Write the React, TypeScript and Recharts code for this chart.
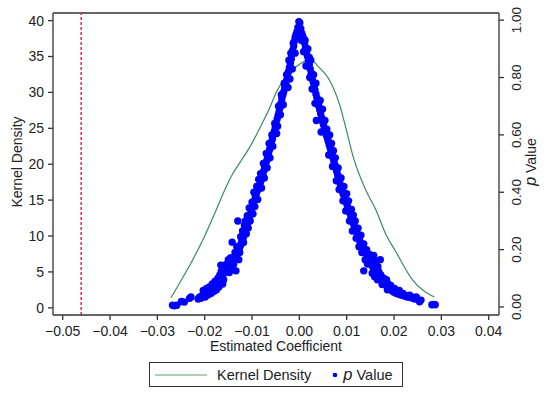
import React from 'react';
import { ComposedChart, Line, Scatter, XAxis, YAxis, ReferenceLine } from 'recharts';

// kernel density of the estimated coefficient
const densityCoef = [-0.0271, -0.025, -0.0226, -0.02, -0.0176, -0.0155, -0.0144, -0.013, -0.012, -0.0102, -0.008, -0.0063, -0.0049, -0.003, -0.0014, 0, 0.0014, 0.0025, 0.004, 0.0063, 0.0085, 0.01, 0.0113, 0.013, 0.0141, 0.0162, 0.0183, 0.0204, 0.0239, 0.0285];
const densityValue = [1.4, 3.8, 6.6, 10.0, 13.6, 16.8, 18.3, 19.8, 20.8, 22.7, 25.5, 27.8, 30.0, 32.0, 33.2, 33.9, 34.4, 34.5, 33.6, 31.8, 28.3, 24.6, 21.2, 18.0, 16.3, 13.6, 10.2, 7.8, 3.9, 1.5];

// p values, [coefficient, p]
const pValueLeft: [number, number][] = [
  [-0.0001, 0.995], [-0.0003, 0.975], [-0.0005, 0.96], [-0.0007, 0.95], [-0.0009, 0.94], [-0.0011, 0.925], [-0.0012, 0.91],
  [-0.0014, 0.895], [-0.0016, 0.88], [-0.0017, 0.865], [-0.0019, 0.85], [-0.0021, 0.835], [-0.0023, 0.82], [-0.0025, 0.805],
  [-0.0027, 0.79], [-0.0029, 0.775], [-0.0031, 0.765], [-0.0033, 0.75], [-0.0035, 0.738], [-0.0037, 0.725], [-0.0039, 0.71],
  [-0.0041, 0.695], [-0.0043, 0.68], [-0.0045, 0.668], [-0.0047, 0.655], [-0.0049, 0.64], [-0.0051, 0.625], [-0.0053, 0.612],
  [-0.0055, 0.6], [-0.0057, 0.585], [-0.0059, 0.572], [-0.0061, 0.56], [-0.0063, 0.548], [-0.0065, 0.537], [-0.0067, 0.525],
  [-0.0069, 0.51], [-0.0071, 0.498], [-0.0073, 0.487], [-0.0075, 0.475], [-0.0077, 0.463], [-0.0079, 0.452], [-0.0081, 0.44],
  [-0.0083, 0.43], [-0.0085, 0.42], [-0.0087, 0.41], [-0.0089, 0.405], [-0.0091, 0.395], [-0.0093, 0.385], [-0.0095, 0.37],
  [-0.0097, 0.36], [-0.0099, 0.35], [-0.0101, 0.34], [-0.0103, 0.325], [-0.0105, 0.315], [-0.0107, 0.305], [-0.0109, 0.295],
  [-0.0111, 0.285], [-0.0113, 0.275], [-0.0115, 0.262], [-0.0117, 0.25], [-0.0119, 0.24], [-0.0121, 0.232], [-0.0123, 0.222],
  [-0.0125, 0.212], [-0.0127, 0.203], [-0.0129, 0.194], [-0.0131, 0.186], [-0.0134, 0.178], [-0.0137, 0.17], [-0.014, 0.163],
  [-0.0143, 0.157], [-0.0146, 0.15], [-0.0149, 0.143], [-0.0152, 0.135], [-0.0155, 0.127], [-0.0158, 0.12], [-0.0161, 0.113],
  [-0.0164, 0.106], [-0.0167, 0.1], [-0.017, 0.094], [-0.0173, 0.088], [-0.0176, 0.082], [-0.0179, 0.076], [-0.0182, 0.071],
  [-0.0185, 0.066], [-0.0188, 0.061], [-0.0191, 0.056], [-0.0194, 0.052], [-0.0197, 0.048], [-0.0201, 0.044], [-0.0206, 0.039],
  [-0.0211, 0.034],
  [-0.0027, 0.81], [-0.0032, 0.78], [-0.0038, 0.74], [-0.0044, 0.7], [-0.004, 0.67], [-0.0046, 0.63], [-0.0052, 0.64],
  [-0.0058, 0.6], [-0.0056, 0.56], [-0.0064, 0.57], [-0.0062, 0.52], [-0.007, 0.535], [-0.0068, 0.485], [-0.0076, 0.5],
  [-0.0074, 0.45], [-0.0082, 0.465], [-0.0086, 0.445], [-0.008, 0.415], [-0.009, 0.42], [-0.0096, 0.4], [-0.0088, 0.375],
  [-0.0094, 0.35], [-0.01, 0.365], [-0.0106, 0.345], [-0.0098, 0.325], [-0.0104, 0.3], [-0.011, 0.318], [-0.0114, 0.3],
  [-0.0108, 0.275], [-0.0116, 0.285], [-0.0112, 0.255], [-0.012, 0.265], [-0.0118, 0.225], [-0.0124, 0.245], [-0.013, 0.3],
  [-0.0126, 0.19], [-0.0132, 0.21], [-0.0142, 0.226], [-0.0128, 0.165], [-0.0136, 0.19], [-0.0134, 0.126], [-0.0139, 0.148],
  [-0.0145, 0.172], [-0.015, 0.165], [-0.0144, 0.135], [-0.0155, 0.148], [-0.0148, 0.12], [-0.0158, 0.135], [-0.016, 0.095],
  [-0.0165, 0.125], [-0.0162, 0.08], [-0.0168, 0.112], [-0.017, 0.07], [-0.0172, 0.1], [-0.0175, 0.06], [-0.0178, 0.09],
  [-0.018, 0.055], [-0.0184, 0.08], [-0.0186, 0.048], [-0.019, 0.07], [-0.0193, 0.042], [-0.0196, 0.065], [-0.0199, 0.035],
  [-0.0203, 0.058], [-0.0208, 0.03], [-0.0214, 0.028], [-0.0229, 0.035], [-0.0232, 0.03], [-0.0243, 0.017], [-0.0249, 0.019],
  [-0.0259, 0.006], [-0.0264, 0.004], [-0.0268, 0.006], [-0.0166, 0.146],
  [-0.0004, 0.94], [-0.0009, 0.885], [-0.0015, 0.83], [-0.002, 0.795], [-0.0024, 0.765], [-0.0013, 0.92],
  [-0.0018, 0.885], [-0.0022, 0.86], [-0.0034, 0.705], [-0.0048, 0.605],
];

const pValueRight: [number, number][] = [
  [0.0001, 0.99], [0.0003, 0.97], [0.0005, 0.955], [0.0007, 0.945], [0.0009, 0.935], [0.0011, 0.92], [0.0013, 0.905],
  [0.0015, 0.89], [0.0017, 0.875], [0.0019, 0.86], [0.0021, 0.845], [0.0023, 0.83], [0.0025, 0.815], [0.0027, 0.8],
  [0.0029, 0.785], [0.0031, 0.77], [0.0033, 0.757], [0.0035, 0.743], [0.0037, 0.73], [0.0039, 0.715], [0.0041, 0.7],
  [0.0043, 0.688], [0.0045, 0.675], [0.0047, 0.66], [0.0049, 0.647], [0.0051, 0.635], [0.0053, 0.622], [0.0055, 0.61],
  [0.0057, 0.6], [0.0059, 0.59], [0.0061, 0.578], [0.0063, 0.566], [0.0065, 0.555], [0.0067, 0.543], [0.0069, 0.53],
  [0.0071, 0.52], [0.0073, 0.508], [0.0075, 0.496], [0.0077, 0.485], [0.0079, 0.472], [0.0081, 0.46], [0.0083, 0.448],
  [0.0085, 0.436], [0.0087, 0.425], [0.0089, 0.413], [0.0091, 0.402], [0.0093, 0.393], [0.0095, 0.385], [0.0097, 0.375],
  [0.0099, 0.366], [0.0101, 0.355], [0.0103, 0.345], [0.0105, 0.335], [0.0107, 0.326], [0.0109, 0.316], [0.0111, 0.306],
  [0.0113, 0.296], [0.0115, 0.287], [0.0117, 0.278], [0.0119, 0.27], [0.0121, 0.262], [0.0123, 0.252], [0.0125, 0.242],
  [0.0127, 0.233], [0.0129, 0.225], [0.0131, 0.217], [0.0134, 0.208], [0.0137, 0.198], [0.014, 0.188], [0.0143, 0.178],
  [0.0146, 0.168], [0.0149, 0.158], [0.0152, 0.148], [0.0155, 0.14], [0.0158, 0.132], [0.0161, 0.124], [0.0164, 0.116],
  [0.0167, 0.109], [0.017, 0.102], [0.0173, 0.096], [0.0176, 0.09], [0.0179, 0.084], [0.0182, 0.078], [0.0185, 0.072],
  [0.0188, 0.067], [0.0191, 0.062], [0.0195, 0.057], [0.0199, 0.052], [0.0204, 0.048], [0.021, 0.044], [0.0216, 0.041],
  [0.0222, 0.038], [0.0228, 0.035], [0.0234, 0.033], [0.024, 0.03],
  [0.0018, 0.9], [0.0024, 0.86], [0.003, 0.81], [0.0035, 0.78], [0.0036, 0.65], [0.0044, 0.72], [0.0049, 0.69],
  [0.0054, 0.65], [0.0058, 0.62], [0.0064, 0.6], [0.0062, 0.53], [0.0068, 0.57], [0.0072, 0.545], [0.007, 0.49],
  [0.0076, 0.52], [0.0078, 0.44], [0.0082, 0.485], [0.0084, 0.41], [0.0088, 0.45], [0.0092, 0.37], [0.0094, 0.42],
  [0.01, 0.395], [0.0098, 0.335], [0.0104, 0.37], [0.0106, 0.3], [0.011, 0.34], [0.0114, 0.32], [0.0112, 0.265],
  [0.0118, 0.3], [0.012, 0.24], [0.0124, 0.275], [0.0126, 0.21], [0.013, 0.25], [0.0132, 0.19], [0.0136, 0.22],
  [0.0139, 0.165], [0.0142, 0.2], [0.0144, 0.15], [0.0147, 0.185], [0.015, 0.17], [0.0153, 0.165], [0.0157, 0.18],
  [0.016, 0.155], [0.0163, 0.16], [0.0166, 0.14], [0.0156, 0.145], [0.0171, 0.165], [0.0154, 0.118], [0.0159, 0.105],
  [0.0165, 0.095], [0.0168, 0.122], [0.0172, 0.112], [0.0175, 0.078], [0.0178, 0.1], [0.0181, 0.09], [0.0184, 0.095],
  [0.0187, 0.082], [0.019, 0.07], [0.0186, 0.06], [0.0193, 0.075], [0.0197, 0.06], [0.0201, 0.065], [0.0205, 0.055],
  [0.0211, 0.058], [0.0215, 0.047], [0.0219, 0.047], [0.0226, 0.038], [0.0233, 0.041], [0.0238, 0.035], [0.0244, 0.028],
  [0.0247, 0.035], [0.0254, 0.018], [0.0257, 0.024], [0.028, 0.008], [0.0284, 0.009], [0.0287, 0.008], [0.0136, 0.126],
  [0.0004, 0.93], [0.0009, 0.89], [0.0014, 0.84], [0.0022, 0.8], [0.0027, 0.76], [0.0012, 0.93],
  [0.0016, 0.9], [0.0021, 0.87], [0.0033, 0.71], [0.0046, 0.61],
];

const xTicks = [-0.05, -0.04, -0.03, -0.02, -0.01, 0, 0.01, 0.02, 0.03, 0.04];
const densityTicks = [0, 5, 10, 15, 20, 25, 30, 35, 40];
const pTicks = [0, 0.2, 0.4, 0.6, 0.8, 1];
const benchmarkCoef = -0.0461;

const X_DOMAIN = [-0.05205, 0.04218];
const L_DOMAIN = [-1.0, 41.06];
const R_DOMAIN = [-0.028, 1.025];

const FONT = 'Arial, "Liberation Sans", Helvetica, sans-serif';
const AXIS = '#333333';
const TEXT = '#222222';

const densityData = densityCoef.map((x, i) => ({ x, density: densityValue[i] }));
const pData = [...pValueLeft, ...pValueRight].map(([x, p]) => ({ x, p }));

const fmtCoef = (v: number) => (v < 0 ? '\u2212' : '') + Math.abs(v).toFixed(2);

const RightTick = (props: any) => {
  const { x, y, payload } = props;
  const tx = x + 11;
  return (
    <text x={tx} y={y} transform={`rotate(-90 ${tx} ${y})`} textAnchor="middle" dominantBaseline="central"
      fontSize={13.5} fill={TEXT} fontFamily={FONT}>
      {payload.value.toFixed(2)}
    </text>
  );
};

const Dot = (props: any) => <circle cx={props.cx} cy={props.cy} r={3.7} fill="#0000ff" />;

export default function App() {
  return (
    <div style={{ position: 'absolute', left: 0, top: 0, width: 550, height: 394, background: '#fff', fontFamily: FONT }}>
      <ComposedChart width={550} height={394} margin={{ top: 13, right: 0, bottom: 49, left: 0 }}>
        <XAxis
          dataKey="x"
          type="number"
          domain={X_DOMAIN}
          ticks={xTicks}
          allowDataOverflow
          tickFormatter={fmtCoef}
          height={30}
          tickSize={5}
          tickMargin={6}
          stroke={AXIS}
          strokeWidth={1.3}
          tick={{ fontSize: 14, fill: TEXT, fontFamily: FONT }}
          label={() => (
            <text x={276} y={351} textAnchor="middle" fontSize={14} fill={TEXT} fontFamily={FONT}>
              Estimated Coefficient
            </text>
          )}
        />
        <YAxis
          yAxisId="l"
          type="number"
          domain={L_DOMAIN}
          ticks={densityTicks}
          allowDataOverflow
          width={53}
          tickSize={5}
          tickMargin={4}
          stroke={AXIS}
          strokeWidth={1.3}
          tick={{ fontSize: 14, fill: TEXT, fontFamily: FONT }}
          label={() => (
            <text x={22} y={162} transform="rotate(-90 22 162)" textAnchor="middle" fontSize={14} fill={TEXT} fontFamily={FONT}>
              Kernel Density
            </text>
          )}
        />
        <YAxis
          yAxisId="r"
          orientation="right"
          type="number"
          domain={R_DOMAIN}
          ticks={pTicks}
          allowDataOverflow
          width={51}
          tickSize={5}
          stroke={AXIS}
          strokeWidth={1.3}
          tick={RightTick}
          label={() => (
            <text x={536} y={162} transform="rotate(-90 536 162)" textAnchor="middle" fontSize={14} fill={TEXT} fontFamily={FONT}>
              <tspan fontStyle="italic" fontSize={16}>p</tspan> Value
            </text>
          )}
        />
        <ReferenceLine yAxisId="l" y={L_DOMAIN[1]} stroke={AXIS} strokeWidth={1.3} />
        <ReferenceLine yAxisId="l" x={benchmarkCoef} stroke="#d21f3c" strokeWidth={1.4} strokeDasharray="3 2" />
        <Line
          yAxisId="l"
          data={densityData}
          dataKey="density"
          type="monotone"
          stroke="#3c8a5e"
          strokeWidth={1.2}
          dot={false}
          activeDot={false}
          isAnimationActive={false}
        />
        <Scatter yAxisId="r" data={pData} dataKey="p" shape={Dot} isAnimationActive={false} />
      </ComposedChart>
      <div
        style={{
          position: 'absolute', left: 149, top: 362, width: 254, height: 25, boxSizing: 'border-box',
          border: '1.3px solid #333', display: 'flex', alignItems: 'center', fontSize: 14.5, color: TEXT,
        }}
      >
        <svg width={62} height={10} style={{ marginLeft: 5 }}>
          <line x1={0} y1={5} x2={52} y2={5} stroke="#8fbf9f" strokeWidth={1.5} />
        </svg>
        <span style={{ marginLeft: 0 }}>Kernel Density</span>
        <svg width={10} height={10} style={{ marginLeft: 19 }}>
          <circle cx={5} cy={5} r={2.3} fill="#0000ff" />
        </svg>
        <span style={{ marginLeft: 3 }}>
          <i style={{ fontSize: 16.5 }}>p</i> Value
        </span>
      </div>
    </div>
  );
}
